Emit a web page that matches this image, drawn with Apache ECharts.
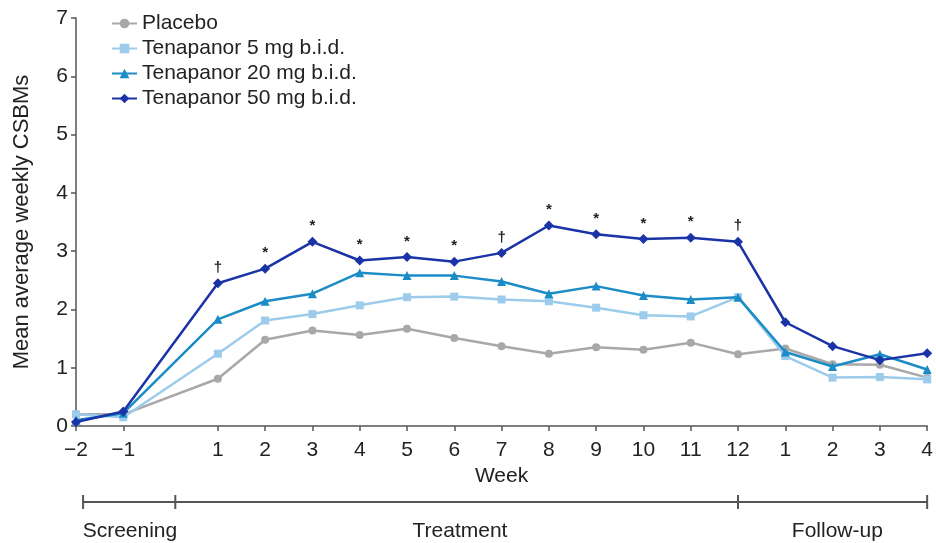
<!DOCTYPE html>
<html>
<head>
<meta charset="utf-8">
<script src="https://cdn.jsdelivr.net/npm/echarts@6/dist/echarts.min.js"></script>
<style>html,body{margin:0;padding:0;background:#fff}#c{width:936px;height:543px}</style>
</head>
<body>
<div id="c"></div>
<script>
// Week positions on a continuous axis (0 = gap between screening and treatment; 13-16 = follow-up 1-4)
var weeks = [-2, -1, 1, 2, 3, 4, 5, 6, 7, 8, 9, 10, 11, 12, 13, 14, 15, 16];
var tickValues = [-2, -1, 1, 2, 3, 4, 5, 6, 7, 8, 9, 10, 11, 12, 13, 14, 15, 16];
var tickLabels = ['\u22122', '\u22121', '1', '2', '3', '4', '5', '6', '7', '8', '9', '10', '11', '12', '1', '2', '3', '4'];

var placebo = [0.20, 0.20, 0.81, 1.48, 1.64, 1.56, 1.67, 1.51, 1.37, 1.24, 1.35, 1.31, 1.43, 1.23, 1.33, 1.06, 1.05, 0.83];
var tena5   = [0.20, 0.15, 1.24, 1.81, 1.92, 2.07, 2.21, 2.22, 2.17, 2.14, 2.03, 1.90, 1.88, 2.21, 1.20, 0.83, 0.84, 0.80];
var tena20  = [0.10, 0.22, 1.83, 2.14, 2.27, 2.63, 2.58, 2.58, 2.48, 2.27, 2.40, 2.24, 2.17, 2.21, 1.27, 1.02, 1.23, 0.97];
var tena50  = [0.07, 0.25, 2.45, 2.70, 3.16, 2.84, 2.90, 2.82, 2.97, 3.44, 3.29, 3.21, 3.23, 3.16, 1.78, 1.37, 1.13, 1.25];
var sigMarks = ['', '', '\u2020', '*', '*', '*', '*', '*', '\u2020', '*', '*', '*', '*', '\u2020', '', '', '', ''];

var phaseBounds = [-1.85, 0.1, 12, 16];
var phaseNames = ['Screening', 'Treatment', 'Follow-up'];
var phaseLabelPos = [-0.86, 6.12, 14.1];

var seriesNames = ['Placebo', 'Tenapanor 5 mg b.i.d.', 'Tenapanor 20 mg b.i.d.', 'Tenapanor 50 mg b.i.d.'];
var colors = ['#a8a8a8', '#9ccbec', '#1b8cc6', '#1a33a6'];
var symbols = ['circle', 'rect', 'triangle', 'diamond'];
var values = [placebo, tena5, tena20, tena50];

var FONT = 'Liberation Sans, Arial, sans-serif';
var FS = 21;
var chart = echarts.init(document.getElementById('c'));

function pairs(arr) { return weeks.map(function (w, i) { return [w, arr[i]]; }); }

var series = values.map(function (v, k) {
  var s = {
    name: seriesNames[k],
    type: 'line',
    data: pairs(v),
    symbol: symbols[k],
    symbolSize: k === 3 ? 10 : (k === 2 ? 9 : 8),
    lineStyle: { color: colors[k], width: 2.5 },
    itemStyle: { color: colors[k] },
    z: 2 + k
  };
  if (k === 3) {
    s.label = {
      show: true,
      position: 'top',
      distance: 3,
      color: '#222',
      fontFamily: FONT,
      fontSize: 15,
      fontWeight: 'bold',
      formatter: function (p) { return sigMarks[p.dataIndex]; }
    };
  }
  return s;
});

chart.setOption({
  animation: false,
  textStyle: { fontFamily: FONT },
  grid: { left: 76, right: 7, top: 18, bottom: 117, containLabel: false },
  legend: {
    orient: 'vertical',
    left: 106,
    top: 8,
    itemWidth: 25,
    itemHeight: 12,
    itemGap: 4,
    textStyle: { fontSize: FS, color: '#222', fontFamily: FONT },
    data: seriesNames
  },
  xAxis: {
    type: 'value',
    min: -2,
    max: 16,
    interval: 1,
    name: 'Week',
    nameLocation: 'middle',
    nameGap: 39,
    nameTextStyle: { fontSize: FS, color: '#222' },
    axisLine: { show: true, onZero: false, lineStyle: { color: '#555', width: 1.5 } },
    axisTick: { show: true, length: 5, lineStyle: { color: '#555', width: 1.5 }, customValues: tickValues },
    axisLabel: {
      fontSize: FS, color: '#222', margin: 14,
      customValues: tickValues,
      formatter: function (v) { var i = tickValues.indexOf(v); return i >= 0 ? tickLabels[i] : ''; }
    },
    splitLine: { show: false }
  },
  yAxis: {
    type: 'value',
    min: 0,
    max: 7,
    interval: 1,
    name: 'Mean average weekly CSBMs',
    nameLocation: 'middle',
    nameGap: 43,
    nameTextStyle: { fontSize: 22, color: '#222' },
    axisLine: { show: true, onZero: false, lineStyle: { color: '#555', width: 1.5 } },
    axisTick: { show: true, length: 5, lineStyle: { color: '#555', width: 1.5 } },
    axisLabel: { fontSize: FS, color: '#222', margin: 8 },
    splitLine: { show: false }
  },
  series: series
});

// phase bar below the axis
var barY = 502;
var graphics = [];
var px = phaseBounds.map(function (b) { return chart.convertToPixel({ xAxisIndex: 0 }, b); });
graphics.push({ type: 'line', shape: { x1: px[0], y1: barY, x2: px[px.length - 1], y2: barY }, style: { stroke: '#555', lineWidth: 2 } });
px.forEach(function (x) {
  graphics.push({ type: 'line', shape: { x1: x, y1: barY - 7, x2: x, y2: barY + 7 }, style: { stroke: '#555', lineWidth: 2 } });
});
phaseNames.forEach(function (n, i) {
  var cx = chart.convertToPixel({ xAxisIndex: 0 }, phaseLabelPos[i]);
  graphics.push({ type: 'text', x: cx, y: 531, style: { text: n, fill: '#222', font: FS + 'px ' + FONT, textAlign: 'center', textVerticalAlign: 'middle' } });
});
chart.setOption({ graphic: graphics });
</script>
</body>
</html>
